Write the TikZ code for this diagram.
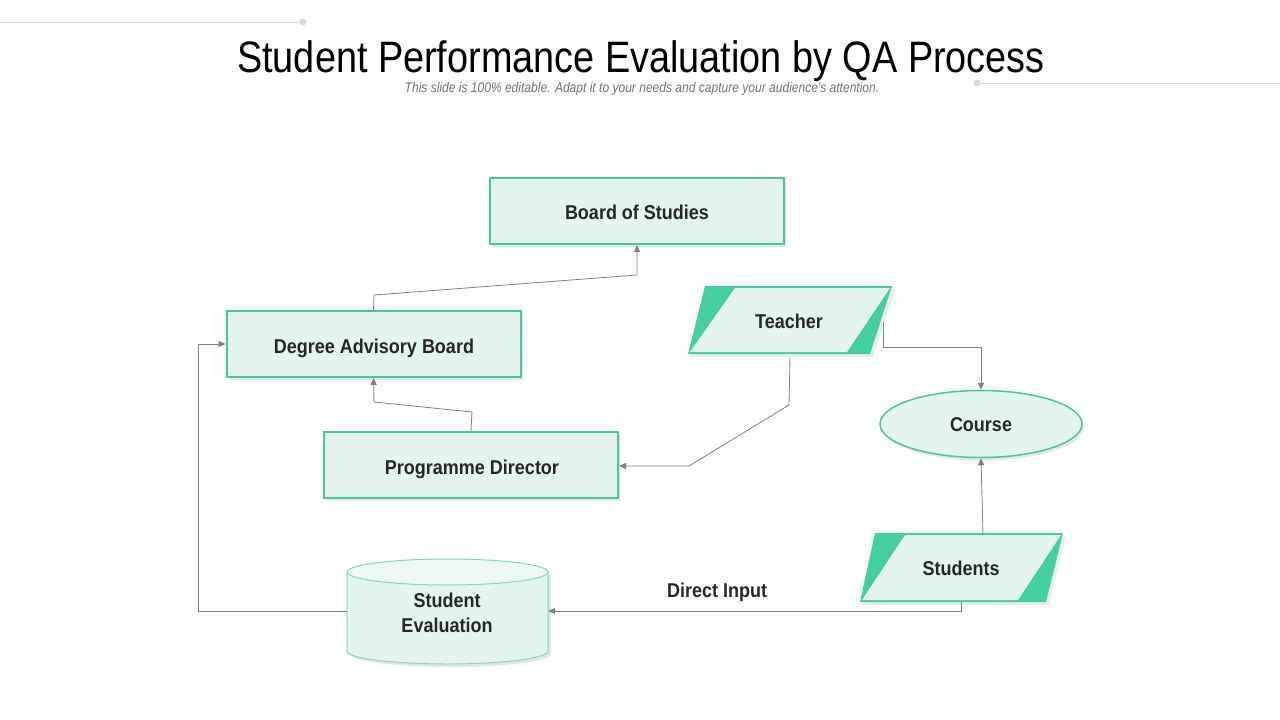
\documentclass[tikz,border=0pt]{standalone}
\usepackage{fontspec}
\usetikzlibrary{arrows.meta,shadows,shapes.geometric}
\newfontfamily\titlefont[FakeStretch=0.86]{Liberation Sans}
\newfontfamily\subfont[FakeStretch=0.86]{Liberation Sans}
\newfontfamily\labelfont[FakeStretch=0.9]{Liberation Sans}
\definecolor{gborder}{HTML}{45C99C}
\definecolor{gdark}{HTML}{43CF9E}
\definecolor{gfill}{HTML}{E3F5EE}
\definecolor{gfilltop}{HTML}{EEF9F5}
\definecolor{glight}{HTML}{82D8B8}
\definecolor{conn}{HTML}{808080}
\definecolor{txt}{HTML}{262626}
\definecolor{deco}{HTML}{D9D9D9}
\begin{document}
\begin{tikzpicture}[x=1pt,y=-1pt,
  box/.style={draw=gborder, line width=2pt, fill=gfill, minimum width=294pt, minimum height=66pt, inner sep=0pt,
     drop shadow={opacity=0.18, shadow xshift=2pt, shadow yshift=-3pt}},
  lbl/.style={font=\labelfont\bfseries\fontsize{20}{25}\selectfont, text=txt, align=center, text height=14.3pt, text depth=0pt, inner sep=0pt},
  conn/.style={draw=conn, line width=0.8pt, -{Triangle[length=7pt,width=6pt]}},
  plain/.style={draw=conn, line width=0.8pt}]
\useasboundingbox (0,0) rectangle (1280,720);
\fill[white] (0,0) rectangle (1280,720);
% decorations
\coordinate (d1a) at (0,22); \coordinate (d1b) at (303,22);
\coordinate (d2a) at (977,83); \coordinate (d2b) at (1280,83);
\draw[deco, line width=1pt] (d1a) -- (d1b);
\fill[deco] (d1b) circle (3.5pt);
\draw[deco, line width=1pt] (d2a) -- (d2b);
\fill[deco] (d2a) circle (3.5pt);
% title
\node[font=\titlefont\fontsize{44}{50}\selectfont, anchor=base] (title) at (641,72) {Student Performance Evaluation by QA Process};
\node[font=\subfont\itshape\fontsize{14}{16}\selectfont, text=black!55, anchor=base] (sub) at (642,92) {This slide is 100\% editable. Adapt it to your needs and capture your audience's attention.};
% boxes
\node[box] (bos) at (637,211) {};
\node[lbl] at (637,212) {Board of Studies};
\node[box] (dab) at (373.5,344) {};
\node[lbl] at (374,346) {Degree Advisory Board};
\node[box] (pd) at (471,465) {};
\node[lbl] at (472,467) {Programme Director};
% course
\node[ellipse, draw=gborder, line width=1.5pt, fill=gfill, minimum width=202pt, minimum height=67pt, inner sep=0pt,
  drop shadow={opacity=0.18, shadow xshift=2pt, shadow yshift=-3pt}] (course) at (981,424) {};
\node[lbl] at (981,424.5) {Course};
% teacher parallelogram
\node[minimum width=204pt, minimum height=68pt, inner sep=0pt] (teacher) at (790,320) {};
\fill[black, opacity=0.08] (691,357) -- (708,289) -- (895,289) -- (873,357) -- cycle;
\fill[gdark] (688,354) -- (705,286) -- (892,286) -- (870,354) -- cycle;
\fill[gfill] (690,352) -- (735,288) -- (890,288) -- (847,352) -- cycle;
\node[lbl] at (789,321.5) {Teacher};
% students parallelogram
\node[minimum width=203pt, minimum height=69pt, inner sep=0pt] (students) at (961,567) {};
\fill[black, opacity=0.08] (863,605) -- (878,536) -- (1066,536) -- (1049,605) -- cycle;
\fill[gdark] (860,602) -- (875,533) -- (1063,533) -- (1046,602) -- cycle;
\fill[gfill] (862,600) -- (905,535) -- (1061,535) -- (1018,600) -- cycle;
\node[lbl] at (961,568.5) {Students};
% student evaluation cylinder
\node[minimum width=201pt, minimum height=105pt, inner sep=0pt] (se) at (447.5,611.5) {};
\fill[black, opacity=0.10] (350,575) -- (350,654) arc[start angle=180, end angle=360, x radius=100.5pt, y radius=13pt] -- (551,575) -- cycle;
\draw[glight, line width=1pt, fill=gfill] (347,572) -- (347,651) arc[start angle=180, end angle=360, x radius=100.5pt, y radius=13pt] -- (548,572) -- cycle;
\draw[glight, line width=1pt, fill=gfilltop] (447.5,572) ellipse[x radius=100.5pt, y radius=13pt];
\node[lbl] at (447,625) {Student\\Evaluation};
% connectors
\coordinate (c1) at (374,295); \coordinate (c2) at (637,275);
\draw[conn] (dab.north) -- (c1) -- (c2) -- (bos.south);
\coordinate (c3) at (472,412); \coordinate (c4) at (374,402);
\draw[conn] (pd.north) -- (c3) -- (c4) -- (dab.south);
\coordinate (t0) at (790,358); \coordinate (t1) at (789,405); \coordinate (t2) at (689,466);
\draw[conn] (t0) -- (t1) -- (t2) -- (pd.east |- t2);
\coordinate (t3) at (883,322); \coordinate (t4) at (883,347); \coordinate (t5) at (981,347);
\draw[conn] (t3) -- (t4) -- (t5) -- (course.north);
\coordinate (s0) at (983,535);
\draw[conn] (s0) -- (course.south);
\coordinate (s1) at (961,602); \coordinate (s2) at (961,611);
\draw[conn] (s1) -- (s2) -- (se.east |- s2);
\node[lbl] (di) at (717,590) {Direct Input};
\coordinate (e1) at (198,611.5); \coordinate (e2) at (198,344);
\draw[conn] (se.west) -- (e1) -- (e2) -- (dab.west);
\end{tikzpicture}
\end{document}
